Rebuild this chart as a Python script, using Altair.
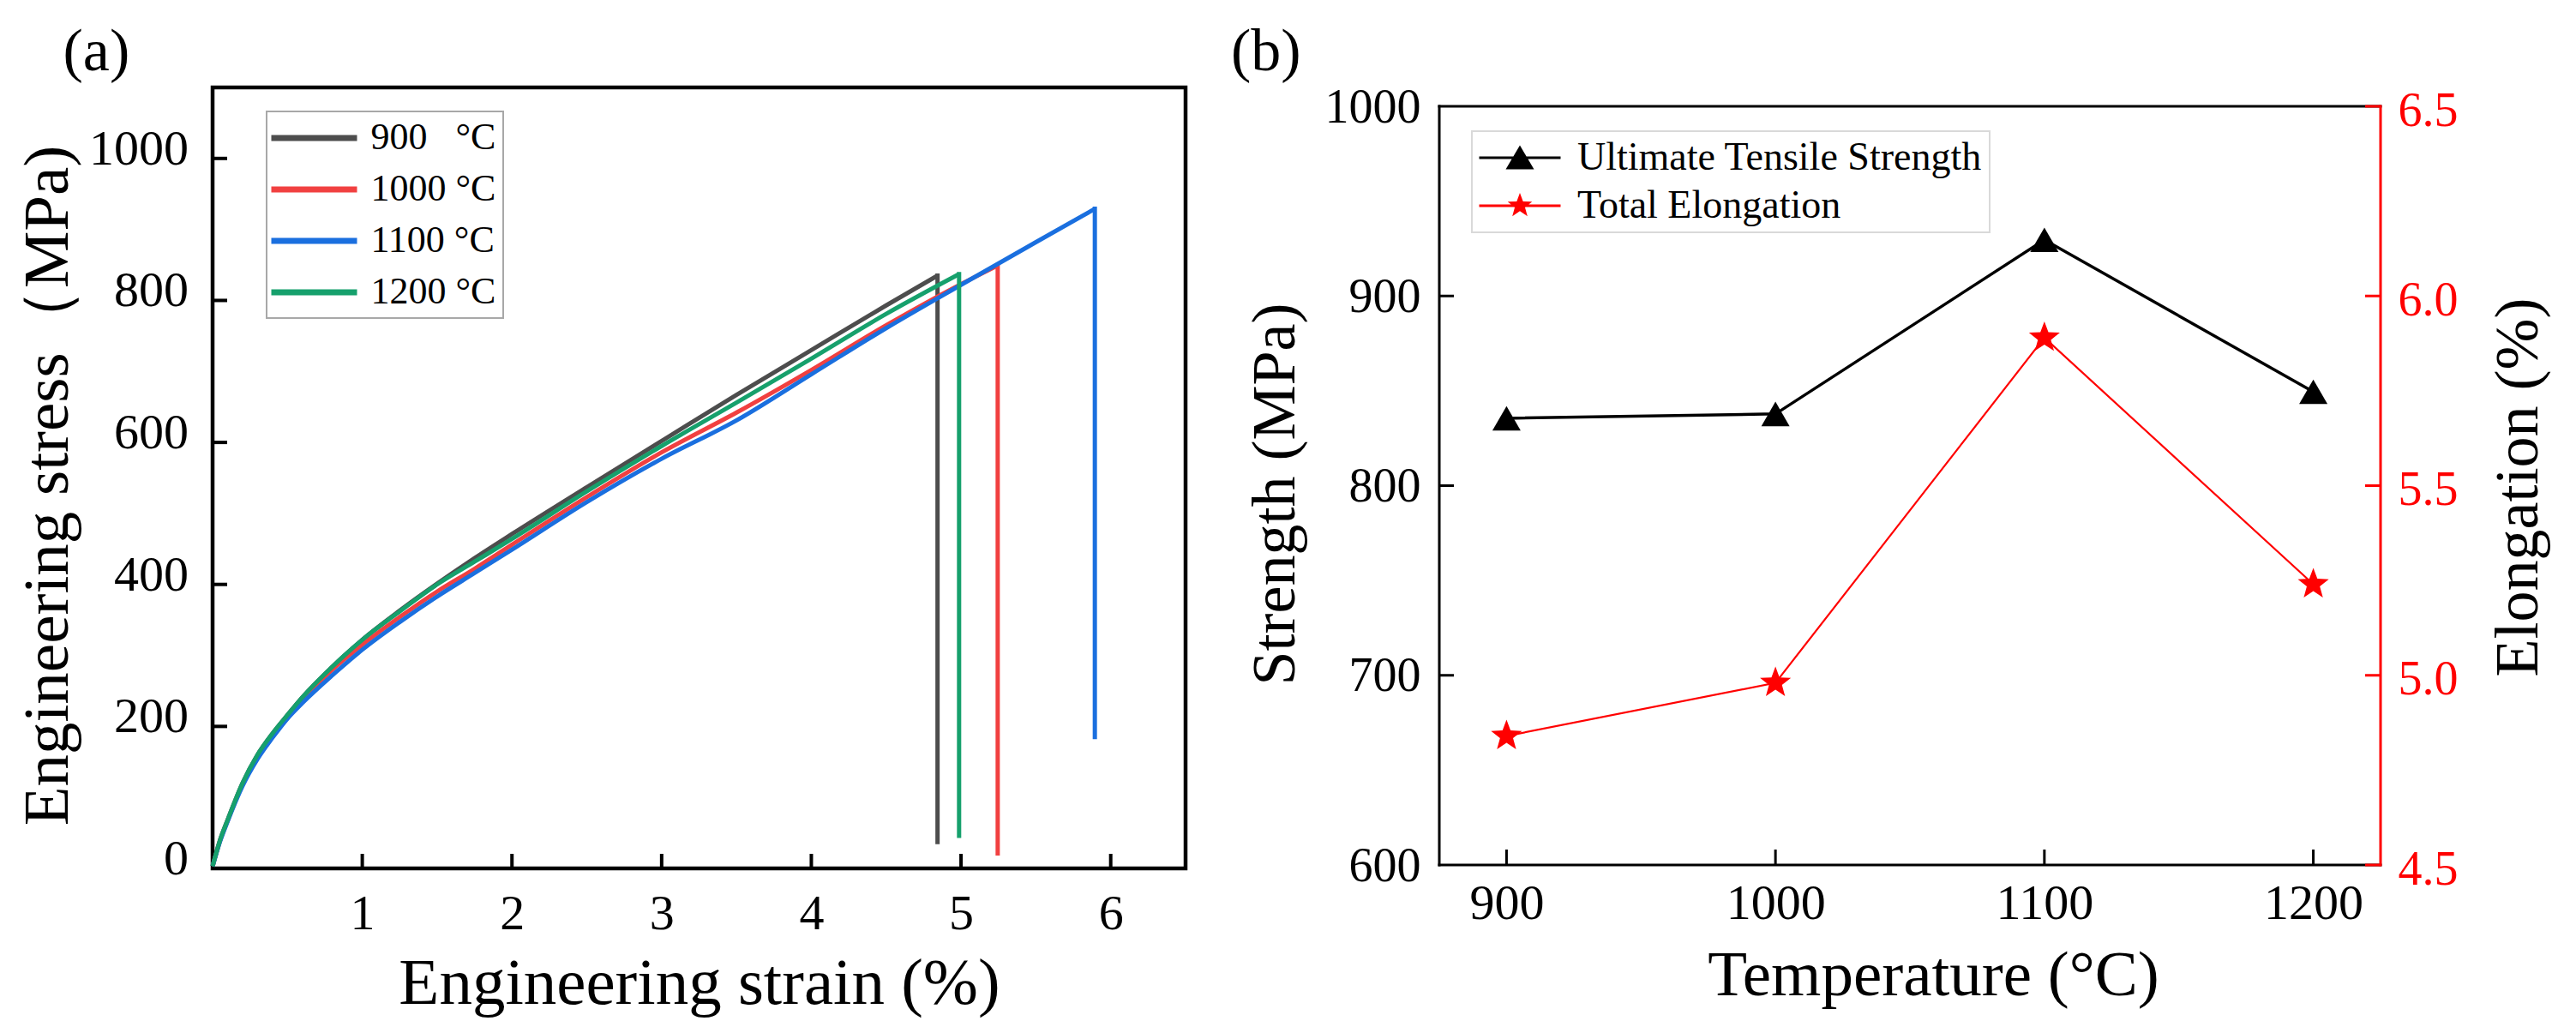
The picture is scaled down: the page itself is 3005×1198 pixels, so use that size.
import altair as alt
import pandas as pd

FONT = "Liberation Serif"

# ---------------- Panel (a): engineering stress-strain curves ----------------
series_a = ["900\u00a0\u00a0\u00a0°C", "1000 °C", "1100 °C", "1200 °C"]
colors_a = ["#4d4d4d", "#F14040", "#1A6FDF", "#16A06C"]

strain_900 = [0, 0.05, 0.1, 0.2, 0.3, 0.4, 0.5, 0.6, 0.8, 1.0, 1.25, 1.5, 1.75, 2.0, 2.5, 3.0, 3.5, 4.0, 4.5, 4.843]
stress_900 = [3, 40, 68, 120, 160, 190, 216, 241, 284, 322, 363, 401, 437, 471, 537, 602, 667, 730, 793, 835]

strain_1000 = [0, 0.05, 0.1, 0.2, 0.3, 0.4, 0.5, 0.6, 0.8, 1.0, 1.25, 1.5, 1.75, 2.0, 2.5, 3.0, 3.5, 4.0, 4.5, 5.0, 5.245]
stress_1000 = [3, 39, 67, 118, 157, 187, 213, 238, 280, 315, 354, 390, 422, 456, 523, 586, 642, 702, 765, 823, 849]

strain_1100 = [0, 0.05, 0.1, 0.2, 0.3, 0.4, 0.5, 0.6, 0.8, 1.0, 1.25, 1.5, 1.75, 2.0, 2.5, 3.0, 3.5, 4.0, 4.5, 5.0, 5.5, 5.894]
stress_1100 = [3, 38, 66, 116, 154, 184, 211, 233, 272, 308, 347, 383, 416, 449, 516, 577, 631, 696, 761, 822, 882, 929]

strain_1200 = [0, 0.05, 0.1, 0.2, 0.3, 0.4, 0.5, 0.6, 0.8, 1.0, 1.25, 1.5, 1.75, 2.0, 2.5, 3.0, 3.5, 4.0, 4.5, 4.987]
stress_1200 = [3, 40, 68, 120, 160, 190, 216, 241, 284, 322, 362, 400, 432, 464, 531, 595, 656, 718, 781, 837]

# stress reached at the bottom of the vertical fracture drop
drop_end_stress = [37, 21, 185, 46]

xticks_a = [1, 2, 3, 4, 5, 6]
yticks_a = [0, 200, 400, 600, 800, 1000]

# ---------------- Panel (b): strength / elongation vs temperature ----------------
temps = [900, 1000, 1100, 1200]
uts = [835.5, 837.8, 929.6, 849.5]
elong = [4.84, 4.98, 5.89, 5.24]
legend_names = ["Ultimate Tensile Strength", "Total Elongation"]
yticks_b = [600, 700, 800, 900, 1000]
yticks_b_right = [4.5, 5.0, 5.5, 6.0, 6.5]

panel_labels = ["(a)", "(b)"]

# ---------------- sizes ----------------
W_A, H_A = 1135, 911
W_B, H_B = 1098, 907          # plot area of (b) incl. a 22 px empty band above the frame
BAND = 22
H_FRAME_B = H_B - BAND

# symbol paths (styles)
STAR = ("M0,-1L0.2469,-0.3398L0.9511,-0.309L0.3995,0.1298L0.5878,0.809L0,0.42"
        "L-0.5878,0.809L-0.3995,0.1298L-0.9511,-0.309L-0.2469,-0.3398Z")
LINE_LEG_A = "M-2.564,0H2.564"
TRI_LEG = "M-2.111,-0.0667H2.111V0.0667H-2.111Z M0,-0.64L0.733,0.6L-0.733,0.6Z"
STAR_LEG = ("M-2.111,-0.0667H2.111V0.0667H-2.111Z M0,-0.667L0.1646,-0.2266L0.6344,-0.2061"
            "L0.2665,0.0866L0.3921,0.5396L0,0.2801L-0.3921,0.5396L-0.2665,0.0866"
            "L-0.6344,-0.2061L-0.1646,-0.2266Z")

# ---------------- build panel (a) ----------------
rows = []
for name, xs, ys in zip(series_a,
                        [strain_900, strain_1000, strain_1100, strain_1200],
                        [stress_900, stress_1000, stress_1100, stress_1200]):
    for i, (x, y) in enumerate(zip(xs, ys)):
        rows.append({"series": name, "strain": x, "stress": y, "idx": i})
df_a = pd.DataFrame(rows)

df_drop = pd.DataFrame({
    "series": series_a,
    "strain": [strain_900[-1], strain_1000[-1], strain_1100[-1], strain_1200[-1]],
    "top": [stress_900[-1], stress_1000[-1], stress_1100[-1], stress_1200[-1]],
    "bottom": drop_end_stress,
})

xs_a = alt.Scale(domain=[0, 6.5], nice=False, zero=False)
ys_a = alt.Scale(domain=[0, 1100], nice=False, zero=False)
col_a = alt.Scale(domain=series_a, range=colors_a)

x_axis_a = alt.Axis(values=xticks_a, title="Engineering strain (%)", labelFontSize=58,
                    labelBaseline="alphabetic", labelPadding=70, ticks=False, tickSize=0,
                    domain=False, grid=False, labelFlush=False, titleFontSize=77,
                    titleX=W_A / 2, titleY=157, titleBaseline="alphabetic", titleAlign="center")
y_axis_a = alt.Axis(values=yticks_a, labels=False, title="Engineering stress（MPa)",
                    ticks=False, tickSize=0, domain=False, grid=False, titleFontSize=75,
                    titleAngle=270, titleX=-169.5, titleY=464, titleBaseline="alphabetic",
                    titleAlign="center")
legend_a = alt.Legend(title=None, orient="none", legendX=63, legendY=28, symbolType=LINE_LEG_A,
                      symbolSize=1521, symbolStrokeWidth=7, symbolOffset=24.5,
                      labelFontSize=44, labelFont=FONT, labelOffset=43, labelLimit=0,
                      rowPadding=15, padding=8, fillColor="white", strokeColor="#a8a8a8")

layers_a = []
for name in series_a:
    layers_a.append(
        alt.Chart(df_a).transform_filter(alt.datum.series == name)
        .mark_line(strokeWidth=5, interpolate="monotone")
        .encode(
            x=alt.X("strain:Q", scale=xs_a, axis=x_axis_a),
            y=alt.Y("stress:Q", scale=ys_a, axis=y_axis_a),
            color=alt.Color("series:N", scale=col_a, legend=legend_a),
            order=alt.Order("idx:Q"),
        )
    )
    layers_a.append(
        alt.Chart(df_drop).transform_filter(alt.datum.series == name)
        .mark_rule(strokeWidth=5, strokeCap="square")
        .encode(
            x=alt.X("strain:Q", scale=xs_a, axis=x_axis_a),
            y=alt.Y("top:Q", scale=ys_a, axis=y_axis_a),
            y2="bottom:Q",
            color=alt.Color("series:N", scale=col_a, legend=legend_a),
        )
    )

xt_a = alt.Chart(pd.DataFrame({"v": xticks_a})).mark_rule(color="black", strokeWidth=4).encode(
    x=alt.X("v:Q", scale=xs_a, axis=x_axis_a), y=alt.value(H_A), y2=alt.value(H_A - 17))
yt_a = alt.Chart(pd.DataFrame({"v": yticks_a[1:]})).mark_rule(color="black", strokeWidth=4).encode(
    y=alt.Y("v:Q", scale=ys_a, axis=y_axis_a), x=alt.value(0), x2=alt.value(17))
# y tick labels of (a), which sit slightly above their ticks in the original
ylab_a = alt.Chart(pd.DataFrame({"v": yticks_a})).mark_text(
    font=FONT, fontSize=58, align="right", baseline="alphabetic", dy=7, color="black").encode(
    y=alt.Y("v:Q", scale=ys_a, axis=y_axis_a), x=alt.value(-28), text=alt.Text("v:Q", format="d"))
label_a = alt.Chart(pd.DataFrame({"t": [panel_labels[0]]})).mark_text(
    font=FONT, fontSize=70, align="left", baseline="alphabetic", color="black").encode(
    text="t:N", x=alt.value(-174.5), y=alt.value(-20))

panel_a = alt.layer(*layers_a, xt_a, yt_a, ylab_a, label_a).properties(
    width=W_A, height=H_A,
    view=alt.ViewBackground(stroke="black", strokeWidth=4.5),
)

# ---------------- build panel (b) ----------------
df_b = pd.DataFrame({"temp": temps, "uts": uts, "elong": elong})

top_left = yticks_b[-1] + BAND * (yticks_b[-1] - yticks_b[0]) / H_FRAME_B
top_right = yticks_b_right[-1] + BAND * (yticks_b_right[-1] - yticks_b_right[0]) / H_FRAME_B
xs_b = alt.Scale(domain=[875, 1225], nice=False, zero=False)
ys_b = alt.Scale(domain=[yticks_b[0], top_left], nice=False, zero=False)
ye_b = alt.Scale(domain=[yticks_b_right[0], top_right], nice=False, zero=False)

x_axis_b = alt.Axis(values=temps, format="d", title="Temperature (°C)", labelFontSize=58,
                    labelBaseline="alphabetic", labelPadding=62, ticks=False, tickSize=0,
                    domain=False, grid=False, labelFlush=False, titleFontSize=75,
                    titleX=576, titleY=151, titleBaseline="alphabetic", titleAlign="center")
y_left_b = alt.Axis(values=yticks_b, format="d", title="Strength (MPa)", orient="left",
                    labelFontSize=56, labelPadding=22, labelBaseline="alphabetic", labelOffset=18,
                    ticks=False, tickSize=0, domain=False, grid=False, labelFlush=False,
                    titleFontSize=72, titleAngle=270, titleX=-170, titleY=474,
                    titleBaseline="alphabetic", titleAlign="center")
y_right_b = alt.Axis(values=yticks_b_right, format=".1f", orient="right", title="Elongation (%)",
                     labelColor="red", labelFontSize=56, labelPadding=20,
                     labelBaseline="alphabetic", labelOffset=22, ticks=False, tickSize=0,
                     domain=False, grid=False, labelFlush=False,
                     titleColor="black", titleFontSize=72, titleAngle=270, titleX=182, titleY=466,
                     titleBaseline="alphabetic", titleAlign="center")
legend_b = alt.Legend(title=None, orient="none", legendX=38, legendY=29 + BAND, symbolSize=2025,
                      symbolStrokeWidth=0, symbolOffset=25, symbolOpacity=1,
                      labelFontSize=46, labelFont=FONT, labelOffset=44, labelLimit=0,
                      rowPadding=10, padding=8, fillColor="white", strokeColor="#d9d9d9")

base_b = alt.Chart(df_b)
uts_line = base_b.mark_line(color="black", strokeWidth=3.5).encode(
    x=alt.X("temp:Q", scale=xs_b, axis=x_axis_b),
    y=alt.Y("uts:Q", scale=ys_b, axis=y_left_b))
uts_pts = base_b.mark_point(shape="triangle-up", filled=True, size=1089, color="black",
                            opacity=1).encode(
    x=alt.X("temp:Q", scale=xs_b, axis=x_axis_b),
    y=alt.Y("uts:Q", scale=ys_b, axis=y_left_b))
xt_b = alt.Chart(pd.DataFrame({"v": temps})).mark_rule(color="black", strokeWidth=3).encode(
    x=alt.X("v:Q", scale=xs_b, axis=x_axis_b), y=alt.value(H_B), y2=alt.value(H_B - 18))
ytl_b = alt.Chart(pd.DataFrame({"v": yticks_b[1:-1]})).mark_rule(color="black", strokeWidth=3).encode(
    y=alt.Y("v:Q", scale=ys_b, axis=y_left_b), x=alt.value(0), x2=alt.value(17))
# frame of panel (b): top, bottom and left edges in black
frame_h = alt.Chart(pd.DataFrame({"v": [yticks_b[0], yticks_b[-1]]})).mark_rule(
    color="black", strokeWidth=3, strokeCap="square").encode(
    y=alt.Y("v:Q", scale=ys_b, axis=y_left_b), x=alt.value(0), x2=alt.value(W_B))
frame_l = alt.Chart(pd.DataFrame({"lo": [yticks_b[0]], "hi": [yticks_b[-1]]})).mark_rule(
    color="black", strokeWidth=3, strokeCap="square").encode(
    y=alt.Y("lo:Q", scale=ys_b, axis=y_left_b), y2="hi:Q", x=alt.value(0))
leg_layer = alt.Chart(pd.DataFrame({"series": legend_names})).mark_point(
    filled=True, opacity=0).encode(
    color=alt.Color("series:N", scale=alt.Scale(domain=legend_names, range=["black", "red"]),
                    legend=legend_b),
    shape=alt.Shape("series:N", scale=alt.Scale(domain=legend_names, range=[TRI_LEG, STAR_LEG]),
                    legend=legend_b))
label_b = alt.Chart(pd.DataFrame({"t": [panel_labels[1]]})).mark_text(
    font=FONT, fontSize=70, align="left", baseline="alphabetic", color="black").encode(
    text="t:N", x=alt.value(-243), y=alt.value(-20))

left_layer = alt.layer(frame_h, frame_l, uts_line, uts_pts, xt_b, ytl_b, leg_layer, label_b)

el_line = base_b.mark_line(color="red", strokeWidth=2.2).encode(
    x=alt.X("temp:Q", scale=xs_b, axis=x_axis_b),
    y=alt.Y("elong:Q", scale=ye_b, axis=y_right_b))
el_pts = base_b.mark_point(shape=STAR, filled=True, size=1444, color="red", opacity=1).encode(
    x=alt.X("temp:Q", scale=xs_b, axis=x_axis_b),
    y=alt.Y("elong:Q", scale=ye_b, axis=y_right_b))
ytr_b = alt.Chart(pd.DataFrame({"v": yticks_b_right})).mark_rule(color="red", strokeWidth=3).encode(
    y=alt.Y("v:Q", scale=ye_b, axis=y_right_b), x=alt.value(W_B - 18), x2=alt.value(W_B))
frame_r = alt.Chart(pd.DataFrame({"lo": [yticks_b_right[0]], "hi": [yticks_b_right[-1]]})).mark_rule(
    color="red", strokeWidth=3, strokeCap="square").encode(
    y=alt.Y("lo:Q", scale=ye_b, axis=y_right_b), y2="hi:Q", x=alt.value(W_B))

right_layer = alt.layer(el_line, el_pts, ytr_b, frame_r)

panel_b = alt.layer(left_layer, right_layer).resolve_scale(y="independent").properties(
    width=W_B, height=H_B,
    view=alt.ViewBackground(strokeWidth=0),
)

chart = (
    alt.hconcat(panel_a, panel_b, spacing=50)
    .resolve_scale(color="independent", shape="independent")
    .resolve_legend(color="independent", shape="independent")
    .properties(padding={"left": 8, "top": 15, "right": 5, "bottom": 2}, background="white")
    .configure_axis(labelFont=FONT, titleFont=FONT, titleFontWeight="normal",
                    labelColor="black", titleColor="black")
    .configure_legend(labelFont=FONT, strokeWidth=2)
)

chart.save("out.html", embed_options={"renderer": "svg", "actions": False})
